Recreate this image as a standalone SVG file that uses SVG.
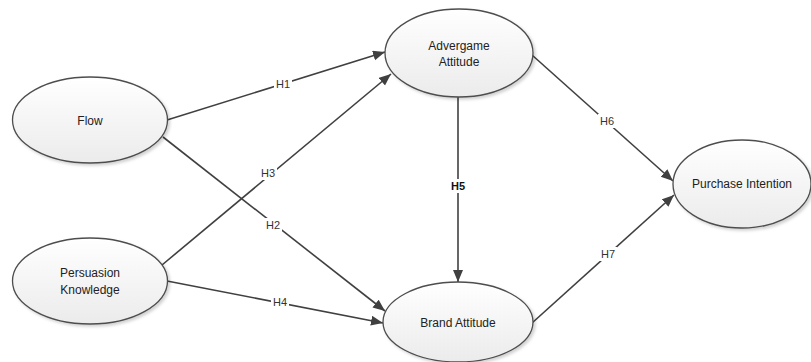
<svg xmlns="http://www.w3.org/2000/svg" width="811" height="362" viewBox="0 0 811 362">
<defs>
<linearGradient id="g" x1="0" y1="0" x2="0" y2="1">
<stop offset="0" stop-color="#ffffff"/>
<stop offset="1" stop-color="#ebebeb"/>
</linearGradient>
<filter id="sh" x="-10%" y="-10%" width="125%" height="130%">
<feDropShadow dx="2" dy="2" stdDeviation="1.5" flood-color="#000" flood-opacity="0.18"/>
</filter>
<marker id="arr" markerUnits="userSpaceOnUse" markerWidth="13" markerHeight="11" refX="12" refY="5" orient="auto">
<path d="M0,0 L12,5 L0,10 z" fill="#404040"/>
</marker>
</defs>
<style>
.n{fill:url(#g);stroke:#4d4d4d;stroke-width:1.3;filter:url(#sh)}
.t{font-family:"Liberation Sans",Arial,sans-serif;font-size:12px;fill:#222;text-anchor:middle}
.e{stroke:#404040;stroke-width:1.6;fill:none;marker-end:url(#arr)}
.lb{fill:#fff}
.l{font-family:"Liberation Sans",Arial,sans-serif;font-size:11px;fill:#333;text-anchor:middle}
.b{font-weight:bold;fill:#111}
</style>
<rect width="811" height="362" fill="#fff"/>
<g id="connectors">
<line class="e" x1="167" y1="120" x2="385" y2="52"/>
<line class="e" x1="163" y1="137" x2="385" y2="311"/>
<line class="e" x1="162" y1="265" x2="391" y2="74"/>
<line class="e" x1="167" y1="281" x2="383" y2="323"/>
<line class="e" x1="458" y1="97" x2="458" y2="282"/>
<line class="e" x1="532" y1="55" x2="673" y2="181"/>
<line class="e" x1="532" y1="323" x2="674" y2="195"/>
<rect class="lb" x="274" y="77" width="18" height="14"/>
<text class="l" x="283" y="88">H1</text>
<rect class="lb" x="264" y="218" width="18" height="14"/>
<text class="l" x="273" y="229">H2</text>
<rect class="lb" x="259" y="166" width="18" height="14"/>
<text class="l" x="268" y="177">H3</text>
<rect class="lb" x="271" y="295" width="18" height="14"/>
<text class="l" x="280" y="306">H4</text>
<rect class="lb" x="449" y="179" width="18" height="14"/>
<text class="l b" x="458" y="190">H5</text>
<rect class="lb" x="598" y="114" width="18" height="14"/>
<text class="l" x="607" y="125">H6</text>
<rect class="lb" x="599" y="247" width="18" height="14"/>
<text class="l" x="608" y="258">H7</text>
</g>
<g id="flow">
<ellipse class="n" cx="90" cy="120" rx="77.5" ry="43"/>
<text class="t" x="90" y="125">Flow</text>
</g>
<g id="persuasion-knowledge">
<ellipse class="n" cx="90" cy="281" rx="77.5" ry="43"/>
<text class="t" x="90" y="277">Persuasion</text>
<text class="t" x="90" y="294">Knowledge</text>
</g>
<g id="advergame-attitude">
<ellipse class="n" cx="459" cy="53" rx="74" ry="44"/>
<text class="t" x="459" y="50">Advergame</text>
<text class="t" x="459" y="66">Attitude</text>
</g>
<g id="brand-attitude">
<ellipse class="n" cx="458" cy="322" rx="75" ry="40"/>
<text class="t" x="458" y="327">Brand Attitude</text>
</g>
<g id="purchase-intention">
<ellipse class="n" cx="742" cy="184" rx="69" ry="44"/>
<text class="t" x="742" y="188">Purchase Intention</text>
</g>
</svg>
